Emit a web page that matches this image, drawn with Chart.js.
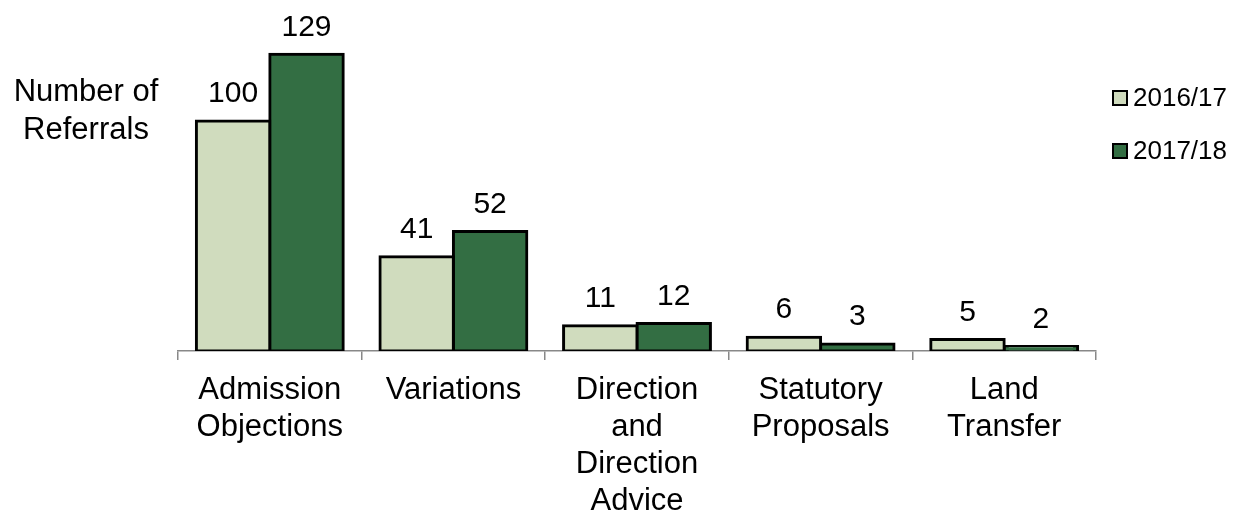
<!DOCTYPE html>
<html>
<head>
<meta charset="utf-8">
<title>Number of Referrals</title>
<script src="https://cdn.jsdelivr.net/npm/chart.js@4/dist/chart.umd.min.js"></script>
<style>
  html, body { margin: 0; padding: 0; background: #ffffff; }
  #wrap { width: 1244px; height: 511px; position: relative; }
</style>
</head>
<body>
<div id="wrap"><canvas id="chart" width="1244" height="511"></canvas></div>
<script>
// Referral categories (multi-line labels) and yearly counts
const categories = [
  ['Admission', 'Objections'],
  ['Variations'],
  ['Direction', 'and', 'Direction', 'Advice'],
  ['Statutory', 'Proposals'],
  ['Land', 'Transfer']
];
const seriesNames = ['2016/17', '2017/18'];
const values2016 = [100, 41, 11, 6, 5];
const values2017 = [129, 52, 12, 3, 2];
const seriesColors = ['#D0DCBE', '#336E43'];
const yAxisTitle = ['Number of', 'Referrals'];

const FONT = '"Liberation Sans", Arial, sans-serif';

// Value labels above each bar, the y-axis caption and the legend
const annotate = {
  id: 'annotate',
  afterDatasetsDraw(chart) {
    const ctx = chart.ctx;
    ctx.save();
    ctx.fillStyle = '#000';
    ctx.textAlign = 'center';
    ctx.textBaseline = 'middle';
    ctx.font = '30px ' + FONT;
    chart.data.datasets.forEach((ds, di) => {
      const meta = chart.getDatasetMeta(di);
      meta.data.forEach((bar, i) => {
        ctx.fillText(String(ds.data[i]), bar.x, bar.y - 27);
      });
    });

    // caption on the left
    ctx.font = '31px ' + FONT;
    yAxisTitle.forEach((line, i) => ctx.fillText(line, 86, 92 + i * 38));

    // legend on the right
    ctx.font = '26px ' + FONT;
    ctx.textAlign = 'left';
    chart.data.datasets.forEach((ds, di) => {
      const cy = 98 + di * 53;
      ctx.fillStyle = ds.backgroundColor;
      ctx.fillRect(1113, cy - 7, 14, 14);
      ctx.lineWidth = 2;
      ctx.strokeStyle = '#000';
      ctx.strokeRect(1113, cy - 7, 14, 14);
      ctx.fillStyle = '#000';
      ctx.fillText(ds.label, 1133, cy + 1);
    });
    ctx.restore();
  }
};

new Chart(document.getElementById('chart'), {
  type: 'bar',
  data: {
    labels: categories,
    datasets: [
      { label: seriesNames[0], data: values2016, backgroundColor: seriesColors[0] },
      { label: seriesNames[1], data: values2017, backgroundColor: seriesColors[1] }
    ]
  },
  options: {
    responsive: false,
    animation: false,
    devicePixelRatio: 1,
    layout: { padding: { left: 178, right: 148, top: 29, bottom: 0 } },
    datasets: {
      bar: {
        categoryPercentage: 0.8,
        barPercentage: 1.0,
        borderColor: '#000',
        borderWidth: 3,
        borderSkipped: false,
        // centre the outline on the bar edge so adjacent bars share one line
        inflateAmount: 1.5
      }
    },
    plugins: {
      legend: { display: false },
      tooltip: { enabled: false },
      title: { display: false }
    },
    scales: {
      y: {
        display: false,
        min: 0,
        max: 140
      },
      x: {
        afterFit(scale) { scale.height = 160; },
        border: { display: true, color: '#888', width: 1.5 },
        grid: {
          offset: true,
          drawOnChartArea: false,
          drawTicks: true,
          tickLength: 9,
          color: '#888',
          lineWidth: 1.5
        },
        ticks: {
          color: '#000',
          font: { family: FONT, size: 31, lineHeight: 1.19 },
          padding: 12,
          maxRotation: 0,
          minRotation: 0,
          autoSkip: false
        }
      }
    }
  },
  plugins: [annotate]
});
</script>
</body>
</html>
